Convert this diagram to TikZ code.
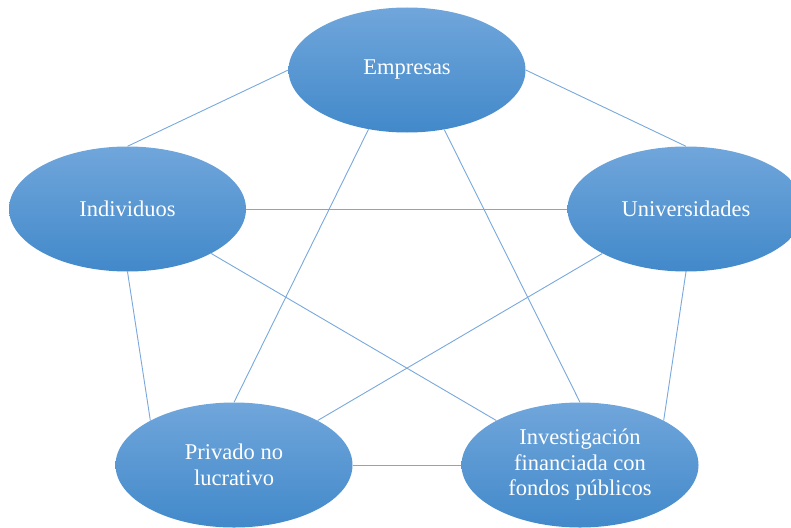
\documentclass[tikz,border=0pt]{standalone}
\usepackage{fontspec}
\setmainfont{Liberation Serif}
\usetikzlibrary{shapes.geometric}
\definecolor{eltop}{RGB}{112,166,219}
\definecolor{elmid}{RGB}{86,155,222}
\definecolor{elbot}{RGB}{66,137,202}
\definecolor{linkc}{RGB}{120,168,220}
\tikzset{
  bubble/.style={ellipse, inner sep=0pt, minimum width=237pt, minimum height=125pt,
    top color=eltop, middle color=elmid, bottom color=elbot, draw=none,
    text=white, align=center, font=\fontsize{22.5}{25.5}\selectfont},
  link/.style={draw=linkc, line width=0.9pt}
}
\begin{document}
\begin{tikzpicture}[x=1pt,y=-1pt]
\useasboundingbox (0,0) rectangle (791,527);
\node[bubble] (E) at (407,70) {Empresas};
\node[bubble] (I) at (127.5,209) {Individuos};
\node[bubble] (U) at (686,209) {Universidades};
\node[bubble] (P) at (234,465) {Privado no\\lucrativo};
\node[bubble] (F) at (580,465) {Investigación\\financiada con\\fondos públicos};
\draw[link] (E.west) -- (I.north);
\draw[link] (E.east) -- (U.north);
\draw[link] (E.237.5) -- (P.north);
\draw[link] (E.302.5) -- (F.north);
\draw[link] (I.east) -- (U.west);
\draw[link] (I.332) -- (F.152);
\draw[link] (I.south) -- (P.152);
\draw[link] (U.south) -- (F.28);
\draw[link] (U.208) -- (P.28);
\draw[link] (P.east) -- (F.west);
\end{tikzpicture}
\end{document}
